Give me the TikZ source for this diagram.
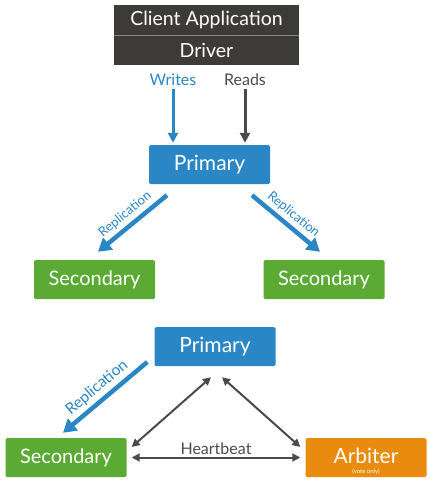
\documentclass[tikz,border=0pt]{standalone}
\usepackage{fontspec}
\setmainfont{Lato}
\usetikzlibrary{arrows.meta}
\definecolor{mdbdark}{HTML}{3D3B38}
\definecolor{mdbseam}{HTML}{8A8886}
\definecolor{mdbblue}{HTML}{2B86C5}
\definecolor{mdbgreen}{HTML}{5AAA34}
\definecolor{mdborange}{HTML}{E88B0E}
\definecolor{mdbgray}{HTML}{4A4A4A}

\tikzset{
  box/.style={rectangle, rounded corners=1.5pt, minimum width=121pt, minimum height=39pt,
    inner sep=0pt, text=white, font=\fontsize{20}{21}\selectfont},
  primbox/.style={box, fill=mdbblue, font=\fontsize{21}{22}\selectfont},
  secbox/.style={box, fill=mdbgreen},
  drvbox/.style={rectangle, fill=mdbdark, minimum width=185pt, inner sep=0pt,
    text=white, font=\fontsize{19.5}{20}\selectfont},
  rw/.style={line width=3pt, -{Triangle[width=10pt,length=10pt]}},
  repl/.style={draw=mdbblue, line width=4.5pt, -{Triangle[width=15pt,length=13pt]}},
  repltext/.style={text=mdbblue, font=\fontsize{13}{14}\selectfont, sloped, above, inner sep=3.5pt},
  beat/.style={draw=mdbgray, line width=2pt, {Triangle[width=8pt,length=8pt]}-{Triangle[width=8pt,length=8pt]}},
}

\begin{document}
\begin{tikzpicture}[x=1pt, y=-1pt]
  \useasboundingbox (0,0) rectangle (430,504);

  % client and driver
  \node[drvbox, minimum height=30pt] (client) at (206.5,20) {Client Application};
  \node[drvbox, minimum height=30pt] (driver) at (206.5,50) {Driver};
  \draw[mdbseam, line width=0.8pt] (client.south west) -- (client.south east);

  \node[text=mdbblue, font=\fontsize{16}{17}\selectfont] (writes) at (173,80) {Writes};
  \node[text=mdbgray, font=\fontsize{16}{17}\selectfont] (reads) at (245,80) {Reads};

  % top replica set
  \node[primbox] (prim1) at (209.5,164.5) {Primary};
  \node[secbox] (sec1) at (94.5,279.5) {Secondary};
  \node[secbox] (sec2) at (324,279.5) {Secondary};

  \draw[rw, mdbblue] (writes.south) -- ([shift={(-36.5,-2)}]prim1.north);
  \draw[rw, mdbgray] (reads.south) -- ([shift={(35.5,-2)}]prim1.north);

  \draw[repl] ([shift={(-42.5,11)}]prim1.south) -- node[repltext] {Replication} ([shift={(3.5,-8)}]sec1.north);
  \draw[repl] ([shift={(42.5,11)}]prim1.south) -- node[repltext] {Replication} ([shift={(-4,-8)}]sec2.north);

  % bottom replica set with arbiter
  \node[primbox] (prim2) at (215,346.5) {Primary};
  \node[secbox] (sec3) at (66,457.5) {Secondary};
  \node[box, fill=mdborange, font=\fontsize{21}{22}\selectfont] (arb) at (366,457.5) {\raisebox{3pt}{Arbiter}};
  \node[text=white, font=\fontsize{6}{7}\selectfont, inner sep=0pt] (vote) at ([shift={(0,-6)}]arb.south) {(vote only)};

  \draw[repl] ([shift={(-7,15.5)}]prim2.west) -- node[repltext, font=\fontsize{15.5}{16}\selectfont] {Replication} ([shift={(-3,-5)}]sec3.north);
  \draw[beat] ([shift={(-4,11)}]prim2.south) -- ([shift={(5,-10.5)}]sec3.east);
  \draw[beat] ([shift={(7,11)}]prim2.south) -- ([shift={(-5,-10.5)}]arb.west);
  \draw[beat] ([shift={(5,0)}]sec3.east) -- node[above, text=mdbgray, font=\fontsize{16}{17}\selectfont, inner sep=2pt] {Heartbeat} ([shift={(-5,0)}]arb.west);
\end{tikzpicture}
\end{document}
